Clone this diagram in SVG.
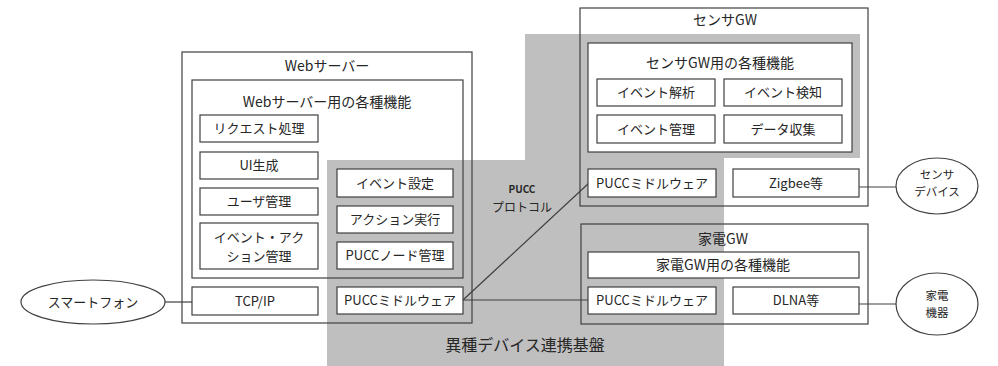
<svg xmlns="http://www.w3.org/2000/svg" width="998" height="366" viewBox="0 0 998 366">
<style>
.frame{fill:none;stroke:#404040;stroke-width:1.2}
.box{fill:#fff;stroke:#404040;stroke-width:1.2}
.t{font-family:"Noto Sans CJK JP","Noto Sans",sans-serif;font-size:13px;fill:#262626;text-anchor:middle}
.ti{font-family:"Noto Sans CJK JP","Noto Sans",sans-serif;font-size:14px;fill:#262626;text-anchor:middle}
.te{font-family:"Noto Sans CJK JP","Noto Sans",sans-serif;font-size:11.5px;fill:#262626;text-anchor:middle}
.ln{fill:none;stroke:#404040;stroke-width:1.2}
</style>
<rect width="998" height="366" fill="#fff"/>
<g id="platform">
<polygon points="525,34 860,34 860,158 724,158 724,366 327,366 327,160 525,160" fill="#bfbfbf"/>
<text class="t" x="525" y="351" style="font-size:16px">異種デバイス連携基盤</text>
</g>
<g id="connectors">
<line class="ln" x1="165" y1="302" x2="192" y2="302"/>
<line class="ln" x1="463" y1="300" x2="588" y2="300"/>
<line class="ln" x1="463" y1="300" x2="589" y2="183"/>
<line class="ln" x1="859" y1="187" x2="896" y2="187"/>
<line class="ln" x1="859" y1="304" x2="896" y2="304"/>
<text class="t" x="522" y="193" style="font-size:10px;font-weight:bold">PUCC</text>
<text class="t" x="522" y="212" style="font-size:12px">プロトコル</text>
</g>
<g id="webserver">
<rect class="frame" x="182" y="52" width="290" height="271"/>
<text class="ti" x="327" y="71">Webサーバー</text>
<rect class="frame" x="192" y="80" width="271" height="198"/>
<text class="ti" x="327" y="107">Webサーバー用の各種機能</text>
</g>
<g id="req"><rect class="box" x="200" y="115" width="118" height="27"/><text class="t" x="259" y="133">リクエスト処理</text></g>
<g id="ui"><rect class="box" x="200" y="152" width="118" height="27"/><text class="t" x="259" y="170">UI生成</text></g>
<g id="user"><rect class="box" x="200" y="188" width="118" height="27"/><text class="t" x="259" y="206">ユーザ管理</text></g>
<g id="evact"><rect class="box" x="200" y="223" width="118" height="46"/><text class="t" x="259" y="242">イベント・アク</text><text class="t" x="259" y="261">ション管理</text></g>
<g id="tcpip"><rect class="box" x="192" y="287" width="126" height="28"/><text class="t" x="255" y="305.5">TCP/IP</text></g>
<g id="evset"><rect class="box" x="337" y="169" width="116" height="28"/><text class="t" x="395" y="187.5">イベント設定</text></g>
<g id="actexec"><rect class="box" x="337" y="206" width="116" height="27"/><text class="t" x="395" y="224">アクション実行</text></g>
<g id="nodemgr"><rect class="box" x="337" y="242" width="116" height="27"/><text class="t" x="395" y="260">PUCCノード管理</text></g>
<g id="webpucc"><rect class="box" x="337" y="287" width="126" height="27"/><text class="t" x="400" y="305">PUCCミドルウェア</text></g>
<g id="sensorgw">
<rect class="frame" x="580" y="8" width="288" height="198"/>
<text class="ti" x="725" y="25">センサGW</text>
<rect class="box" x="588" y="43" width="264" height="109"/>
<text class="ti" x="720" y="68">センサGW用の各種機能</text>
</g>
<g id="evanal"><rect class="box" x="597" y="79" width="118" height="27"/><text class="t" x="656" y="97">イベント解析</text></g>
<g id="evdet"><rect class="box" x="724" y="79" width="118" height="27"/><text class="t" x="783" y="97">イベント検知</text></g>
<g id="evmgr"><rect class="box" x="597" y="115" width="118" height="28"/><text class="t" x="656" y="133.5">イベント管理</text></g>
<g id="datacol"><rect class="box" x="724" y="115" width="118" height="28"/><text class="t" x="783" y="133.5">データ収集</text></g>
<g id="sensorpucc"><rect class="box" x="588" y="169" width="128" height="28"/><text class="t" x="652" y="187.5">PUCCミドルウェア</text></g>
<g id="zigbee"><rect class="box" x="733" y="169" width="126" height="28"/><text class="t" x="796" y="187.5">Zigbee等</text></g>
<g id="homegw">
<rect class="frame" x="581" y="224" width="287" height="100"/>
<text class="ti" x="723" y="244">家電GW</text>
</g>
<g id="homefunc"><rect class="box" x="588" y="252" width="271" height="26"/><text class="ti" x="723" y="270">家電GW用の各種機能</text></g>
<g id="homepucc"><rect class="box" x="588" y="287" width="128" height="27"/><text class="t" x="652" y="305">PUCCミドルウェア</text></g>
<g id="dlna"><rect class="box" x="733" y="287" width="126" height="27"/><text class="t" x="796" y="305">DLNA等</text></g>
<g id="smartphone"><ellipse class="box" cx="93" cy="302" rx="72" ry="22"/><text class="t" x="93" y="306.5">スマートフォン</text></g>
<g id="sensordev"><ellipse class="box" cx="937" cy="186" rx="41" ry="28"/><text class="te" x="937" y="179">センサ</text><text class="te" x="937" y="196">デバイス</text></g>
<g id="appliance"><ellipse class="box" cx="937" cy="304" rx="41" ry="31"/><text class="te" x="937" y="300">家電</text><text class="te" x="937" y="317">機器</text></g>
</svg>
